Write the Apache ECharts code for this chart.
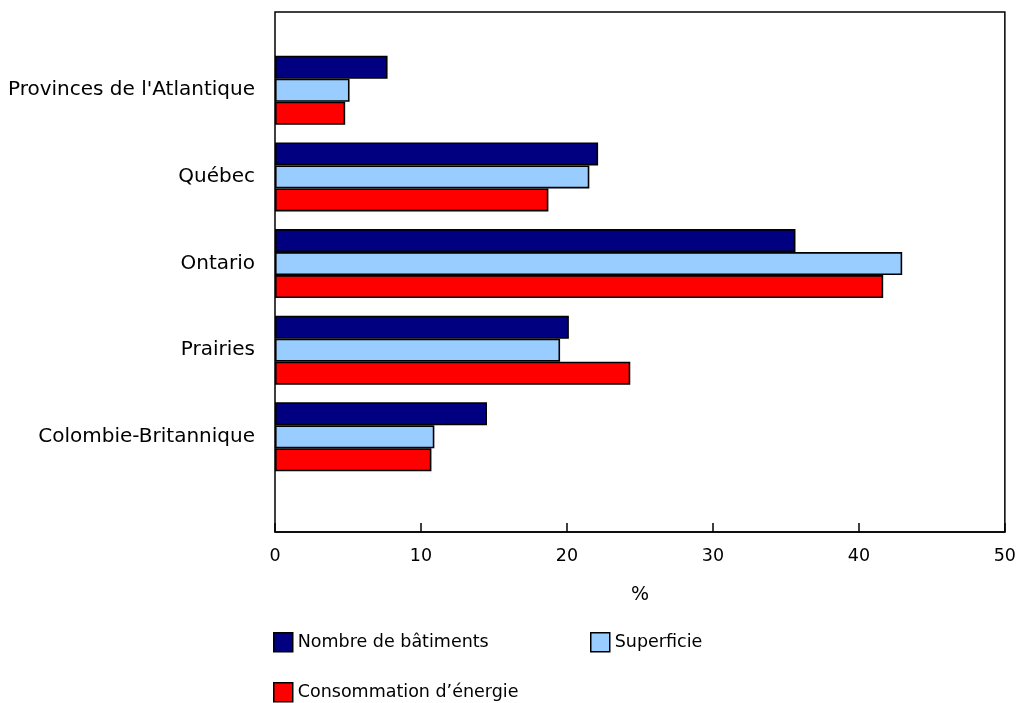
<!DOCTYPE html>
<html>
<head>
<meta charset="utf-8">
<script src="https://cdn.jsdelivr.net/npm/echarts@6/dist/echarts.min.js"></script>
<style>
html,body{margin:0;padding:0;background:#fff;}
#chart{width:1019px;height:703px;}
</style>
</head>
<body>
<div id="chart"></div>
<script>
const categories = ["Provinces de l'Atlantique", "Québec", "Ontario", "Prairies", "Colombie-Britannique"];
const seriesNames = ["Nombre de bâtiments", "Superficie", "Consommation d’énergie"];
const nombreBatiments = [7.7, 22.1, 35.6, 20.1, 14.5];
const superficie = [5.1, 21.5, 42.9, 19.5, 10.9];
const consommation = [4.8, 18.7, 41.6, 24.3, 10.7];
const xTicks = [0, 10, 20, 30, 40, 50];
const colors = ['#000080', '#99CCFF', '#FF0000'];

const FONT = 'DejaVu Sans, Verdana, sans-serif';
const chart = echarts.init(document.getElementById('chart'), null, {renderer: 'canvas'});

const values = [nombreBatiments, superficie, consommation];
const series = values.map((v, i) => ({
  name: seriesNames[i],
  type: 'bar',
  xAxisIndex: 1,
  yAxisIndex: 1,
  data: v,
  barWidth: 23,
  barGap: '0%',
  itemStyle: {color: colors[i], borderColor: '#000', borderWidth: 1.6},
  emphasis: {disabled: true}
}));

const legendBase = {
  orient: 'horizontal',
  itemWidth: 19,
  itemHeight: 19,
  icon: 'rect',
  selectedMode: false,
  textStyle: {fontFamily: FONT, fontSize: 17.5, color: '#000'},
  itemStyle: {borderColor: '#000', borderWidth: 1.5}
};

chart.setOption({
  animation: false,
  backgroundColor: '#fff',
  grid: [
    {left: 275, right: 13, top: 12, height: 520, show: true, borderColor: '#000', borderWidth: 1.5, backgroundColor: 'transparent'},
    {left: 275, right: 13, top: 46.9, height: 433.3}
  ],
  xAxis: [
    {
      gridIndex: 0, type: 'value', min: xTicks[0], max: xTicks[xTicks.length - 1], interval: 10,
      name: '%', nameLocation: 'middle', nameGap: 54,
      nameTextStyle: {fontFamily: FONT, fontSize: 19, color: '#000'},
      axisLine: {show: true, lineStyle: {color: '#000', width: 1.5}},
      axisTick: {show: true, inside: true, length: 9, lineStyle: {color: '#000', width: 1.5}},
      axisLabel: {fontFamily: FONT, fontSize: 17.5, color: '#000', margin: 15},
      splitLine: {show: false}
    },
    {gridIndex: 1, type: 'value', min: 0, max: 50, show: false}
  ],
  yAxis: [
    {gridIndex: 0, type: 'value', show: false},
    {
      gridIndex: 1, type: 'category', inverse: true, data: categories,
      axisLine: {show: false}, axisTick: {show: false},
      axisLabel: {fontFamily: FONT, fontSize: 20, color: '#000', margin: 20}
    }
  ],
  legend: [
    Object.assign({}, legendBase, {left: 268, top: 627, data: [seriesNames[0]]}),
    Object.assign({}, legendBase, {left: 585, top: 627, data: [seriesNames[1]]}),
    Object.assign({}, legendBase, {left: 268, top: 677, data: [seriesNames[2]]})
  ],
  series: series
});
</script>
</body>
</html>
